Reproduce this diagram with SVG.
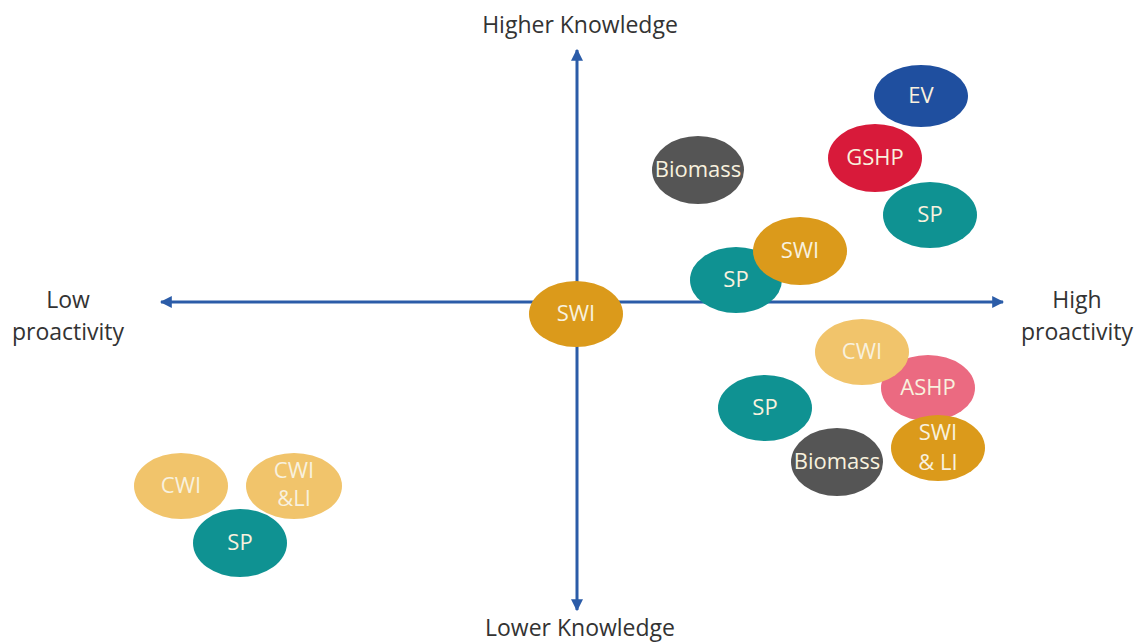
<svg xmlns="http://www.w3.org/2000/svg" width="1142" height="644" viewBox="0 0 1142 644">
  <style>
    .axis { stroke: #2b5ca8; stroke-width: 3; fill: none; }
    .lbl { font-family: "Open Sans", "Liberation Sans", sans-serif; font-size: 23px; fill: #333333; text-anchor: middle; }
    .node text { font-family: "Open Sans", "Liberation Sans", sans-serif; font-size: 22px; fill: #f8f1de; text-anchor: middle; }
    .ev { fill: #1f4f9f; }
    .gshp { fill: #d81a3a; }
    .sp { fill: #0f9292; }
    .bio { fill: #555555; }
    .swi { fill: #db9a1b; }
    .cwi { fill: #f1c46b; }
    .ashp { fill: #eb6a81; }
  </style>
  <defs>
    <marker id="arrow" viewBox="0 0 10 10" refX="9" refY="5" markerWidth="4" markerHeight="4" orient="auto-start-reverse">
      <path d="M0,0 L10,5 L0,10 z" fill="#2b5ca8"/>
    </marker>
  </defs>
  <rect width="1142" height="644" fill="#ffffff"/>

  <!-- axes -->
  <g id="connectors">
    <line class="axis" x1="577" y1="610" x2="577" y2="50" marker-start="url(#arrow)" marker-end="url(#arrow)"/>
    <line class="axis" x1="161" y1="302" x2="1003" y2="302" marker-start="url(#arrow)" marker-end="url(#arrow)"/>
  </g>

  <!-- axis labels -->
  <text class="lbl" x="580" y="33">Higher Knowledge</text>
  <text class="lbl" x="580" y="636">Lower Knowledge</text>
  <text class="lbl" x="68" y="308">Low</text>
  <text class="lbl" x="68" y="340">proactivity</text>
  <text class="lbl" x="1077" y="308">High</text>
  <text class="lbl" x="1077" y="340">proactivity</text>

  <!-- upper right cluster -->
  <g id="ev" class="node"><ellipse class="ev" cx="921" cy="96" rx="47" ry="31"/><text x="921" y="103">EV</text></g>
  <g id="gshp" class="node"><ellipse class="gshp" cx="875" cy="158" rx="47" ry="34"/><text x="875" y="165">GSHP</text></g>
  <g id="sp-high" class="node"><ellipse class="sp" cx="930" cy="215" rx="47" ry="33"/><text x="930" y="222">SP</text></g>
  <g id="biomass-high" class="node"><ellipse class="bio" cx="698" cy="170" rx="46" ry="34"/><text x="698" y="177">Biomass</text></g>
  <g id="sp-mid" class="node"><ellipse class="sp" cx="736" cy="280" rx="46" ry="33"/><text x="736" y="287">SP</text></g>
  <g id="swi-mid" class="node"><ellipse class="swi" cx="800" cy="251" rx="47" ry="34"/><text x="800" y="258">SWI</text></g>

  <!-- centre -->
  <g id="swi-centre" class="node"><ellipse class="swi" cx="576" cy="314" rx="47" ry="33"/><text x="576" y="321">SWI</text></g>

  <!-- lower right cluster -->
  <g id="ashp" class="node"><ellipse class="ashp" cx="928" cy="388" rx="47" ry="33"/><text x="928" y="395">ASHP</text></g>
  <g id="cwi-right" class="node"><ellipse class="cwi" cx="862" cy="352" rx="47" ry="33"/><text x="862" y="359">CWI</text></g>
  <g id="sp-right" class="node"><ellipse class="sp" cx="765" cy="408" rx="47" ry="33"/><text x="765" y="415">SP</text></g>
  <g id="biomass-low" class="node"><ellipse class="bio" cx="837" cy="462" rx="46" ry="34"/><text x="837" y="469">Biomass</text></g>
  <g id="swi-li" class="node"><ellipse class="swi" cx="938" cy="448" rx="47" ry="33"/><text x="938" y="440">SWI</text><text x="938" y="470">&amp; LI</text></g>

  <!-- lower left cluster -->
  <g id="cwi-left" class="node"><ellipse class="cwi" cx="181" cy="486" rx="47" ry="33"/><text x="181" y="493">CWI</text></g>
  <g id="cwi-li" class="node"><ellipse class="cwi" cx="294" cy="486" rx="48" ry="33"/><text x="294" y="478">CWI</text><text x="294" y="506">&amp;LI</text></g>
  <g id="sp-left" class="node"><ellipse class="sp" cx="240" cy="543" rx="47" ry="34"/><text x="240" y="550">SP</text></g>
</svg>
